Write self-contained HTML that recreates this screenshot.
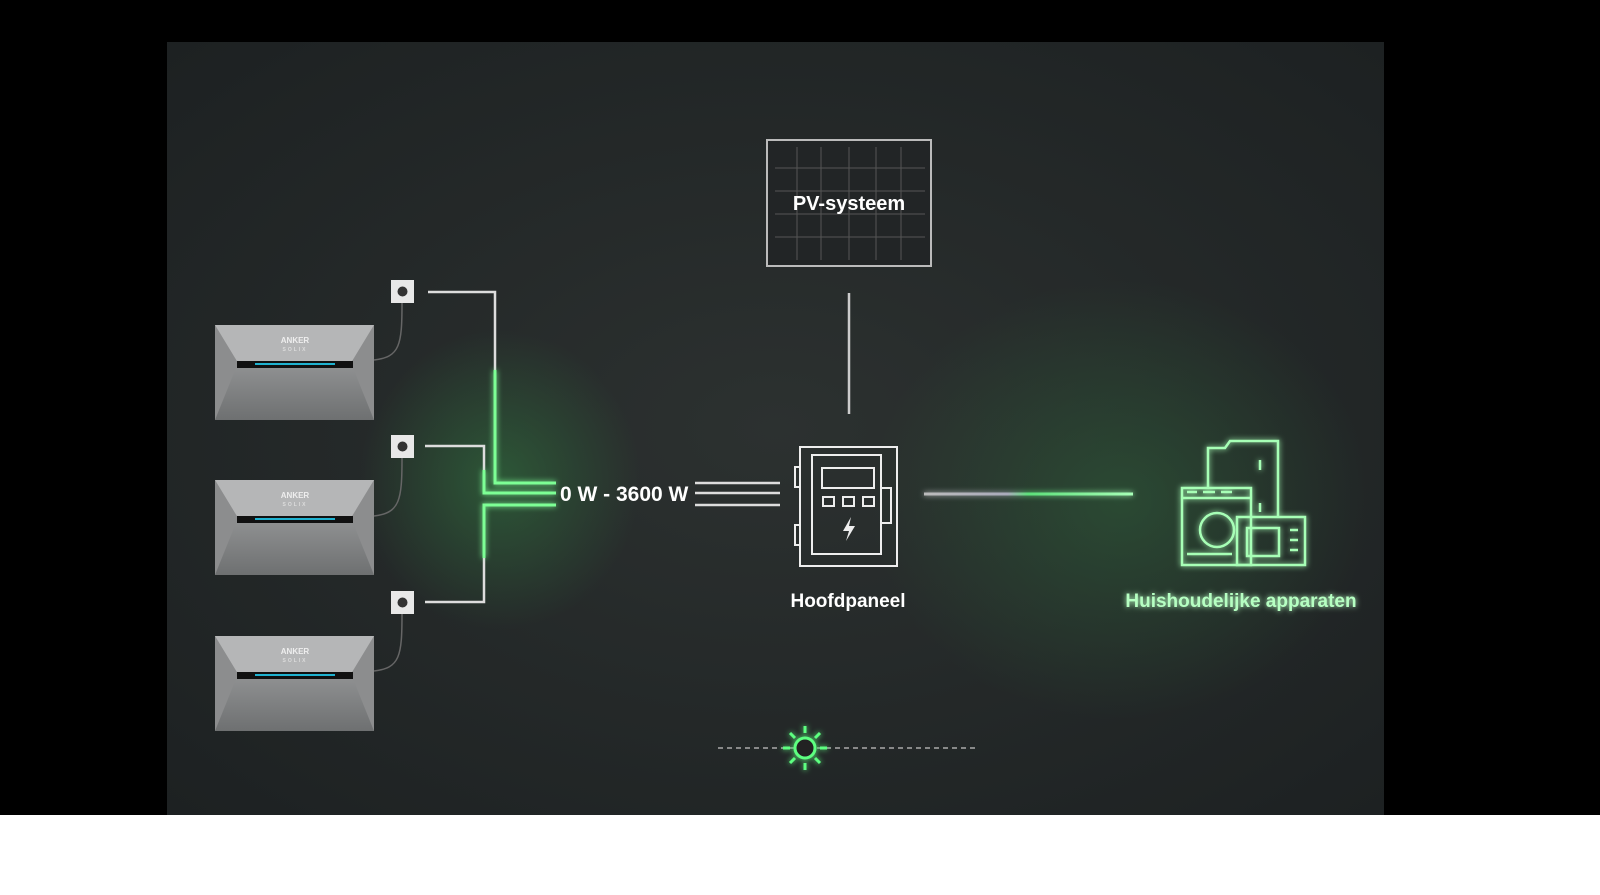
<!DOCTYPE html>
<html><head><meta charset="utf-8"><style>
html,body{margin:0;padding:0;background:#fff;width:1600px;height:895px;overflow:hidden}
svg{display:block}
text{font-family:"Liberation Sans",sans-serif;font-weight:bold}
</style></head><body>
<svg width="1600" height="895" viewBox="0 0 1600 895">
<defs>
<radialGradient id="bg" cx="0.5" cy="0.5" r="0.7">
<stop offset="0" stop-color="#2c3130"/><stop offset="1" stop-color="#1d2122"/></radialGradient>
<radialGradient id="gl1" cx="0.5" cy="0.5" r="0.5"><stop offset="0" stop-color="#2f6a3c" stop-opacity="0.7"/><stop offset="1" stop-color="#2f6a3c" stop-opacity="0"/></radialGradient>
<linearGradient id="ln" x1="0" x2="1"><stop offset="0" stop-color="#bbb"/><stop offset="0.4" stop-color="#aab"/><stop offset="0.5" stop-color="#5de07a"/><stop offset="1" stop-color="#a8ffb8"/></linearGradient>
<linearGradient id="bat" x1="0" y1="0" x2="0" y2="1"><stop offset="0" stop-color="#a8a9aa"/><stop offset="1" stop-color="#6e7071"/></linearGradient>
<filter id="glow" filterUnits="userSpaceOnUse" x="0" y="0" width="1600" height="895"><feGaussianBlur stdDeviation="3" result="b"/><feMerge><feMergeNode in="b"/><feMergeNode in="SourceGraphic"/></feMerge></filter>
<g id="battery">
<rect x="0" y="0" width="159" height="95" fill="url(#bat)"/>
<polygon points="0,0 159,0 136,38 23,38" fill="#b5b6b7"/>
<polygon points="0,0 23,38 0,95" fill="#8c8d8e"/>
<polygon points="159,0 136,38 159,95" fill="#8c8d8e"/>
<rect x="22" y="36" width="116" height="7" fill="#111"/>
<rect x="40" y="38" width="80" height="2" fill="#1fb2d0"/>
<text x="80" y="18" font-size="8" fill="#eee" text-anchor="middle">ANKER</text>
<text x="80" y="26" font-size="5" fill="#ddd" text-anchor="middle" letter-spacing="2">SOLIX</text>
</g>
<g id="socket"><rect x="0" y="0" width="23" height="23" fill="#e8e8e8"/><circle cx="11.5" cy="11.5" r="5" fill="#333"/></g>
</defs>
<rect width="1600" height="895" fill="#000"/>
<rect x="0" y="815" width="1600" height="80" fill="#fff"/>
<rect x="167" y="42" width="1217" height="773" fill="url(#bg)"/>
<ellipse cx="500" cy="480" rx="140" ry="150" fill="url(#gl1)"/>
<ellipse cx="1120" cy="500" rx="250" ry="220" fill="url(#gl1)" opacity="0.7"/>
<use href="#battery" x="215" y="325"/>
<use href="#battery" x="215" y="480"/>
<use href="#battery" x="215" y="636"/>
<use href="#socket" x="391" y="280"/>
<use href="#socket" x="391" y="435"/>
<use href="#socket" x="391" y="591"/>
<g fill="none" stroke="#666" stroke-width="1.5">
<path d="M402,303 C402,345 400,357 374,360"/>
<path d="M402,458 C402,500 400,513 374,516"/>
<path d="M402,614 C402,656 400,668 374,671"/>
</g>
<g fill="none" stroke="#ddd" stroke-width="2.5">
<path d="M428,292 H495 V370"/>
<path d="M425,446 H484 V470"/>
<path d="M425,602 H484 V558"/>
</g>
<g fill="none" stroke="#7dff95" stroke-width="3" filter="url(#glow)">
<path d="M495,370 V483 H556"/>
<path d="M484,470 V493 H556"/>
<path d="M484,558 V505 H556"/>
</g>
<text x="560" y="501" font-size="21" fill="#fff">0 W - 3600 W</text>
<g stroke="#ddd" stroke-width="2.5"><line x1="695" y1="483" x2="780" y2="483"/><line x1="695" y1="493" x2="780" y2="493"/><line x1="695" y1="505" x2="780" y2="505"/></g>
<rect x="767" y="140" width="164" height="126" fill="#222526" stroke="#bbb" stroke-width="2"/>
<g stroke="#555" stroke-width="1">
<line x1="775" y1="168" x2="925" y2="168"/><line x1="775" y1="191" x2="925" y2="191"/><line x1="775" y1="214" x2="925" y2="214"/><line x1="775" y1="237" x2="925" y2="237"/>
<line x1="797" y1="147" x2="797" y2="260"/><line x1="821" y1="147" x2="821" y2="260"/><line x1="849" y1="147" x2="849" y2="260"/><line x1="876" y1="147" x2="876" y2="260"/><line x1="901" y1="147" x2="901" y2="260"/>
</g>
<text x="849" y="210" font-size="20" fill="#fff" text-anchor="middle">PV-systeem</text>
<line x1="849" y1="293" x2="849" y2="414" stroke="#ccc" stroke-width="2.5"/>
<g fill="none" stroke="#eee" stroke-width="2">
<rect x="800" y="447" width="97" height="119"/>
<rect x="812" y="455" width="69" height="99"/>
<rect x="822" y="468" width="52" height="20"/>
<rect x="823" y="497" width="11" height="9"/><rect x="843" y="497" width="11" height="9"/><rect x="863" y="497" width="11" height="9"/>
<rect x="881" y="488" width="10" height="35"/>
<rect x="795" y="467" width="5" height="20"/><rect x="795" y="525" width="5" height="20"/>
</g>
<polygon points="851,517 843,531 849,531 846,541 855,526 849,526" fill="#eee"/>
<text x="848" y="607" font-size="19" fill="#fff" text-anchor="middle">Hoofdpaneel</text>
<rect x="924" y="492.5" width="209" height="3" fill="url(#ln)" filter="url(#glow)"/>
<g fill="none" stroke="#a7ffb6" stroke-width="2.5" filter="url(#glow)">
<path d="M1208,488 V448 H1225 L1230,441 H1278 V517"/>
<line x1="1260" y1="460" x2="1260" y2="470"/><line x1="1260" y1="503" x2="1260" y2="512"/>
<rect x="1182" y="488" width="69" height="77"/>
<line x1="1182" y1="498" x2="1251" y2="498"/>
<line x1="1187" y1="492" x2="1197" y2="492"/><line x1="1203" y1="492" x2="1215" y2="492"/><line x1="1221" y1="492" x2="1232" y2="492"/>
<circle cx="1217" cy="530" r="17"/>
<line x1="1187" y1="554" x2="1232" y2="554"/>
<rect x="1237" y="517" width="68" height="48"/>
<rect x="1247" y="528" width="32" height="28"/>
<line x1="1290" y1="530" x2="1298" y2="530"/><line x1="1290" y1="540" x2="1298" y2="540"/><line x1="1290" y1="550" x2="1298" y2="550"/>
</g>
<text x="1241" y="607" font-size="19" fill="#b6ffc2" text-anchor="middle" filter="url(#glow)">Huishoudelijke apparaten</text>
<line x1="718" y1="748" x2="978" y2="748" stroke="#aaa" stroke-width="1.5" stroke-dasharray="5,4"/>
<g stroke="#5dff80" stroke-width="3" filter="url(#glow)" fill="#222">
<circle cx="805" cy="748" r="10"/>
<line x1="805" y1="726" x2="805" y2="733"/><line x1="805" y1="763" x2="805" y2="770"/>
<line x1="783" y1="748" x2="790" y2="748"/><line x1="820" y1="748" x2="827" y2="748"/>
<line x1="790" y1="733" x2="795" y2="738"/><line x1="815" y1="758" x2="820" y2="763"/>
<line x1="820" y1="733" x2="815" y2="738"/><line x1="790" y1="763" x2="795" y2="758"/>
</g>
</svg>
</body></html>
